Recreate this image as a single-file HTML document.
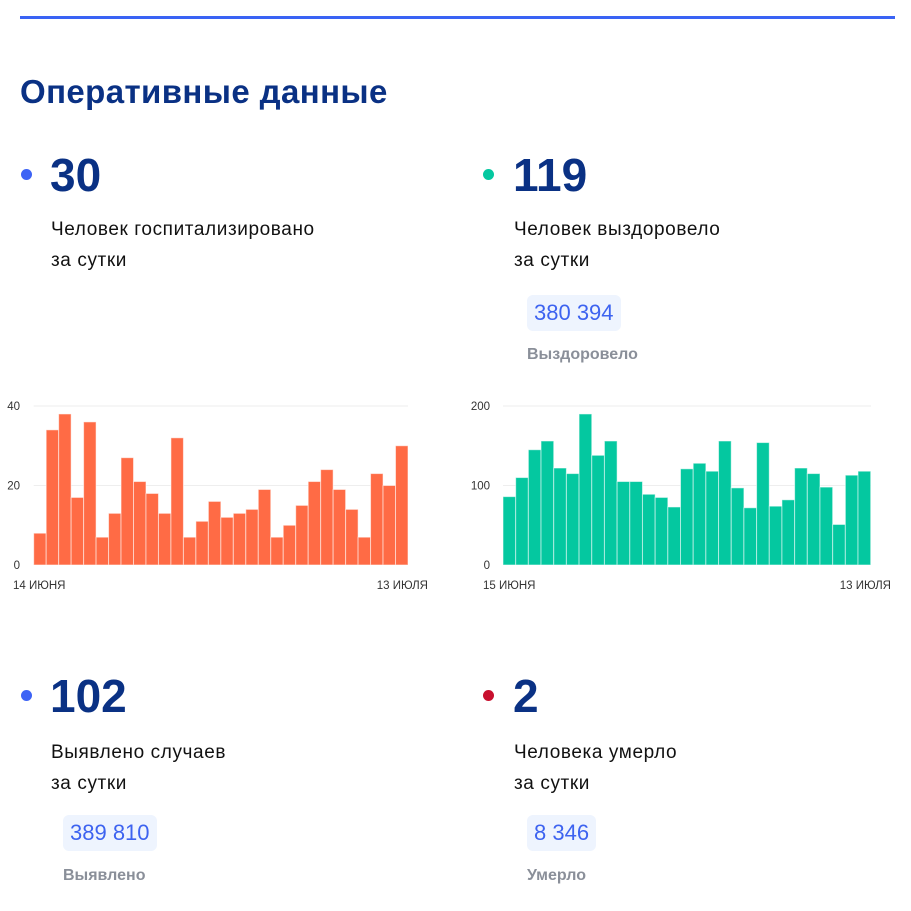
<!DOCTYPE html>
<html><head><meta charset="utf-8">
<style>
body{margin:0;width:911px;height:911px;background:#fff;position:relative;overflow:hidden;font-family:"Liberation Sans",Arial,sans-serif;}
.a{position:absolute;white-space:nowrap;}
.topline{left:20px;top:16px;width:875px;height:3px;background:#3a63f4;}
.title{left:20px;top:72px;font-size:33px;letter-spacing:0.4px;font-weight:bold;color:#0a3184;line-height:40px;}
.dot{width:11px;height:11px;border-radius:50%;}
.big{font-size:46px;font-weight:bold;color:#0a3184;line-height:50px;}
.lbl{font-size:19px;letter-spacing:0.6px;color:#111;line-height:31px;}
.pill{background:#eef4fe;border-radius:6px;height:36px;line-height:36px;font-size:22px;color:#3d63f0;padding:0 7px;}
.sub{font-size:16px;font-weight:bold;color:#8a8f99;line-height:20px;}
svg{position:absolute;left:0;top:0;}
</style></head><body>
<div class="a topline"></div>
<div class="a title">Оперативные данные</div>

<div class="a dot" style="left:21px;top:169px;background:#3d63f5"></div>
<div class="a big" style="left:50px;top:150px">30</div>
<div class="a lbl" style="left:51px;top:214px">Человек госпитализировано<br>за сутки</div>

<div class="a dot" style="left:483px;top:169px;background:#04c8a0"></div>
<div class="a big" style="left:513px;top:150px">119</div>
<div class="a lbl" style="left:514px;top:214px">Человек выздоровело<br>за сутки</div>
<div class="a pill" style="left:527px;top:295px">380 394</div>
<div class="a sub" style="left:527px;top:345px">Выздоровело</div>

<div class="a dot" style="left:21px;top:690px;background:#3d63f5"></div>
<div class="a big" style="left:50px;top:671px">102</div>
<div class="a lbl" style="left:51px;top:737px">Выявлено случаев<br>за сутки</div>
<div class="a pill" style="left:63px;top:815px">389 810</div>
<div class="a sub" style="left:63px;top:866px">Выявлено</div>

<div class="a dot" style="left:483px;top:690px;background:#c8102e"></div>
<div class="a big" style="left:513px;top:671px">2</div>
<div class="a lbl" style="left:514px;top:737px">Человека умерло<br>за сутки</div>
<div class="a pill" style="left:527px;top:815px">8 346</div>
<div class="a sub" style="left:527px;top:866px">Умерло</div>

<svg id="charts" width="911" height="911"></svg>
<script>
const hospValues=[8,34,38,17,36,7,13,27,21,18,13,32,7,11,16,12,13,14,19,7,10,15,21,24,19,14,7,23,20,30];
const hospTicks=[0,20,40];
const hospDates=["14 ИЮНЯ","13 ИЮЛЯ"];
const recValues=[86,110,145,156,122,115,190,138,156,105,105,89,85,73,121,128,118,156,97,72,154,74,82,122,115,98,51,113,118];
const recTicks=[0,100,200];
const recDates=["15 ИЮНЯ","13 ИЮЛЯ"];

const NS="http://www.w3.org/2000/svg";
const svg=document.getElementById('charts');
function mk(t,a){const e=document.createElementNS(NS,t);for(const k in a)e.setAttribute(k,a[k]);svg.appendChild(e);return e;}
function chart(cfg,values,ticks,dates,name){
  const max=ticks[ticks.length-1];
  const y=v=>cfg.y0-(v/max)*(cfg.y0-cfg.y1);
  const bw=(cfg.x1-cfg.x0)/values.length;
  const x=i=>cfg.x0+i*bw;
  ticks.forEach(t=>{
    if(t>0){const g=mk('line',{x1:cfg.x0,x2:cfg.gx,y1:y(t),y2:y(t),stroke:'#eeeeee','stroke-width':1});
    
    }
    const tx=mk('text',{x:cfg.tx,y:y(t)+4,'text-anchor':'end','font-size':11.5,fill:'#333','font-family':'Liberation Sans, sans-serif'});
    tx.textContent=t;
    
    
  });
  values.forEach((v,i)=>{
    const r=mk('rect',{x:x(i),y:y(v),width:bw,height:y(0)-y(v),fill:cfg.color,stroke:'rgba(255,255,255,0.55)','stroke-width':1});
    
    
  });
  const l1=mk('text',{x:cfg.lx0,y:589,'font-size':11.5,fill:'#333','font-family':'Liberation Sans, sans-serif'});
  l1.textContent=dates[0];
  
  
  const l2=mk('text',{x:cfg.lx1,y:589,'text-anchor':'end','font-size':11.5,fill:'#333','font-family':'Liberation Sans, sans-serif'});
  l2.textContent=dates[1];
  
  
}
chart({x0:33.7,x1:408,gx:408,y0:565,y1:406,color:'#ff6b45',tx:20,lx0:13,lx1:428},hospValues,hospTicks,hospDates,'hospitalized');
chart({x0:503,x1:870.7,gx:871,y0:565,y1:406,color:'#04c8a0',tx:490,lx0:483,lx1:891},recValues,recTicks,recDates,'recovered');
</script>
</body></html>
